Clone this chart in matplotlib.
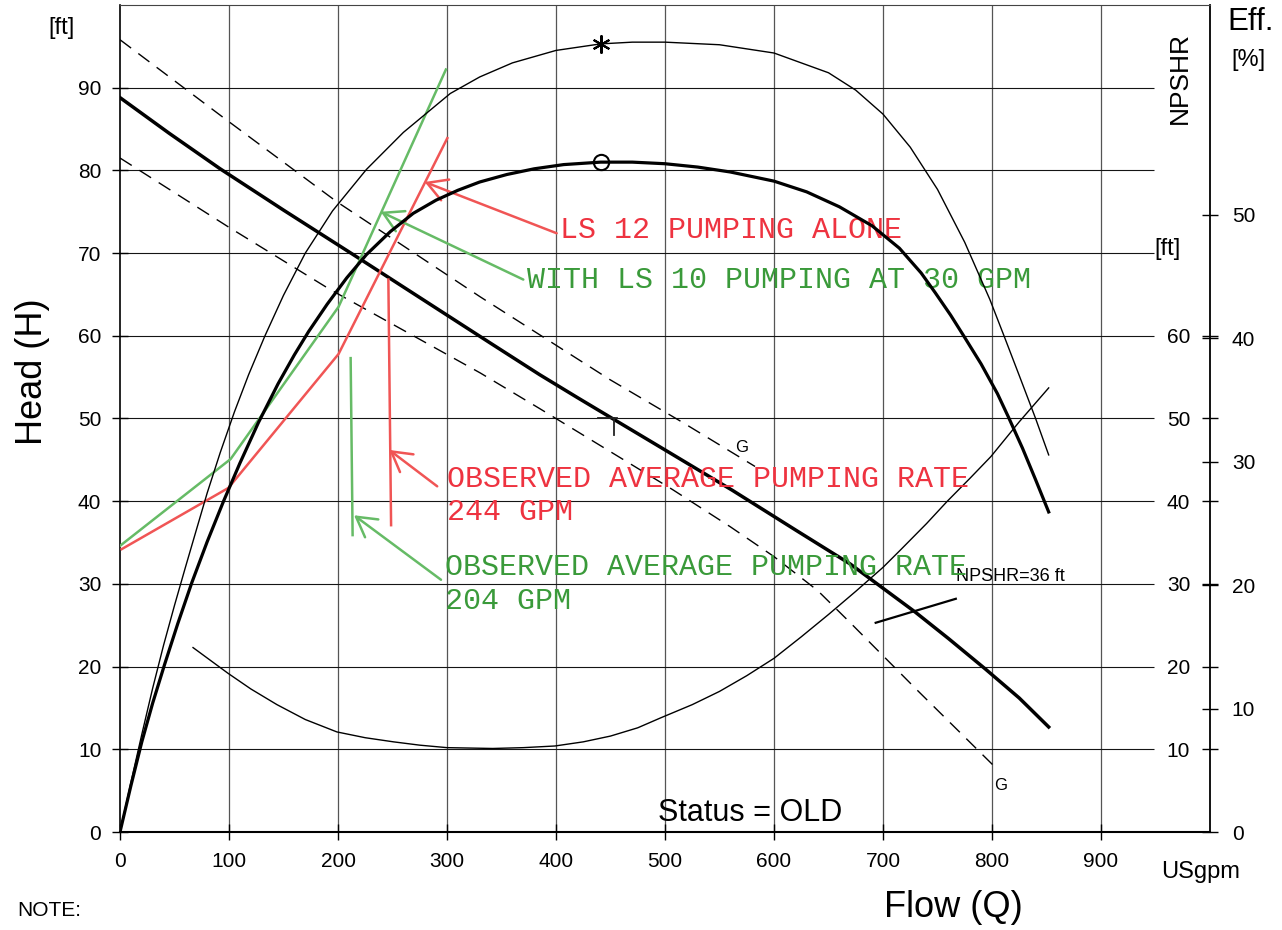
import matplotlib
matplotlib.use("Agg")
import matplotlib.pyplot as plt

plt.rcParams['font.family'] = ['Liberation Sans', 'DejaVu Sans']

# ---------------- data ----------------
# Pump head curve  [USgpm, ft]
head_q = [0, 45, 91.8, 150, 213, 260, 300, 340, 385, 420, 453, 500, 562, 620, 670,
          729.5, 760, 794, 825, 852]
head_h = [88.8, 84.5, 80.2, 75.2, 69.9, 65.9, 62.5, 59.1, 55.3, 52.5, 49.9, 46.2,
          41.3, 36.5, 32.4, 26.6, 23.4, 19.7, 16.2, 12.7]

# Efficiency curve (thick, BEP circle)  [USgpm, %]
eff1_q = [0, 10, 20, 30, 41, 53, 66, 80, 95, 110, 127, 145, 160, 173, 190, 208, 226,
          248, 269, 290, 310, 330, 355, 380, 407, 441, 470, 500, 530, 560, 600, 630,
          660, 690, 715, 735, 748, 762, 774, 790, 805, 815, 828, 840, 848, 852]
eff1_e = [0.0, 3.75, 7.30, 10.45, 13.60, 16.88, 20.23, 23.52, 26.80, 29.88, 33.17,
          36.31, 38.66, 40.54, 42.75, 44.89, 46.77, 48.64, 50.12, 51.19, 51.99, 52.66,
          53.27, 53.73, 54.07, 54.27, 54.27, 54.14, 53.87, 53.47, 52.73, 51.86, 50.65,
          49.11, 47.30, 45.29, 43.68, 41.88, 40.20, 37.92, 35.51, 33.63, 31.09, 28.54,
          26.80, 25.93]

# Efficiency curve (thin, asterisk)  [USgpm, %]
eff2_q = [0, 10, 20, 30, 40, 50, 60, 70, 80, 92, 105, 118, 133, 150, 170, 195, 226,
          260, 303, 330, 360, 400, 441, 470, 500, 550, 600, 650, 675, 700, 725, 750,
          775, 798, 811, 825, 840, 852]
eff2_e = [0.0, 4.02, 7.91, 11.66, 15.14, 18.36, 21.44, 24.46, 27.47, 30.75, 34.04,
          37.05, 40.20, 43.48, 46.90, 50.32, 53.67, 56.68, 59.83, 61.17, 62.31, 63.32,
          63.85, 63.99, 63.99, 63.78, 63.11, 61.51, 60.10, 58.16, 55.48, 52.06, 47.77,
          43.15, 40.20, 36.98, 33.50, 30.55]

bep_q = 441
bep_eff1 = 54.27
bep_eff2 = 63.8

# NPSHR curve  [USgpm, ft]
npsh_q = [67, 99, 120, 144, 170, 199, 225, 251, 275, 300, 342, 370, 399, 425, 450, 475,
          496, 525, 550, 575, 600, 625, 650, 675, 700, 716, 740, 759, 780, 799, 825, 852]
npsh_h = [22.3, 19.2, 17.3, 15.4, 13.6, 12.1, 11.4, 10.9, 10.5, 10.2, 10.1, 10.2, 10.4,
          10.9, 11.6, 12.6, 13.8, 15.4, 17.0, 18.9, 21.0, 23.6, 26.3, 29.1, 32.0, 34.1,
          37.3, 40.0, 42.8, 45.4, 49.6, 53.7]

# Dashed "G" curves  [USgpm, ft]
g_hi_q = [0, 94.7, 199, 330.6, 449.5, 516.5, 582.6]
g_hi_h = [95.8, 86.4, 76.2, 64.7, 54.7, 49.5, 44.2]
g_lo_q = [0, 99, 192.7, 330.6, 385, 507, 560, 600, 640, 670, 731, 805.5]
g_lo_h = [81.5, 73.2, 65.6, 55.5, 51.2, 41.4, 36.9, 33.3, 29.2, 25.3, 17.2, 7.5]

# Rated point marker and NPSHR pointer
rated_q, rated_h = 454, 50.1
npsh_ptr_q = [693.3, 766.8]
npsh_ptr_h = [25.3, 28.2]

# Hand-drawn system curves
red_q = [1.5, 99.4, 200.5, 300.3]
red_h = [34.2, 41.6, 57.8, 83.9]
green_q = [0, 101.5, 200.5, 299]
green_h = [34.6, 45.1, 63.5, 92.2]

# Observed pumping-rate markers
red_obs_q = [246.2, 248.7]
red_obs_h = [66.8, 37.1]
green_obs_q = [211.6, 213.4]
green_obs_h = [57.3, 35.9]

# Arrows: (tail, tip)
red_arrows = [((400.6, 72.4), (279.5, 78.6)), ((291.0, 41.8), (247.0, 46.2))]
green_arrows = [((370.0, 66.8), (239.2, 75.0)), ((294.5, 30.5), (214.7, 38.3))]

x_ticks = [0, 100, 200, 300, 400, 500, 600, 700, 800, 900]
head_ticks = [0, 10, 20, 30, 40, 50, 60, 70, 80, 90]
npsh_ticks = [10, 20, 30, 40, 50, 60]
eff_ticks = [0, 10, 20, 30, 40, 50]

RED_L = '#f05555'
GREEN_L = '#66bb66'
RED_T = '#ee3340'
GREEN_T = '#3a9a3a'
MONO = ['Liberation Mono', 'DejaVu Sans Mono']

# ---------------- figure ----------------
W, H = 1282, 930
fig = plt.figure(figsize=(W / 100, H / 100), dpi=100)
L, B, R, T = 120 / W, 1 - 832 / H, 1210 / W, 1 - 5 / H
ax = fig.add_axes([L, B, R - L, T - B])
ax.set_xlim(0, 1000)
ax.set_ylim(0, 100)

# grid
ax.vlines(x_ticks[1:], 0, 100, colors='#555555', lw=0.9, zorder=1)
ax.hlines(head_ticks[1:], 0, 949, colors='#151515', lw=0.8, zorder=1)

# curves
ax.plot(head_q, head_h, color='k', lw=2.5, zorder=4)
ax.plot(npsh_q, npsh_h, color='k', lw=1.0, zorder=4)
ax.plot(g_hi_q, g_hi_h, color='k', lw=1.0, dashes=(10, 6.5), zorder=4)
ax.plot(g_lo_q, g_lo_h, color='k', lw=1.0, dashes=(10, 6.5), zorder=4)

# rated point mark
ax.plot([rated_q - 15.5, rated_q + 2.3], [rated_h, rated_h], color='#222222', lw=1.3, zorder=5)
ax.plot([rated_q - 0.4, rated_q - 0.4], [rated_h, rated_h - 2.1], color='#222222', lw=1.3, zorder=5)

# NPSHR pointer
ax.plot(npsh_ptr_q, npsh_ptr_h, color='k', lw=1.6, zorder=5)
ax.text(npsh_ptr_q[1], 30.4, 'NPSHR=36 ft', fontsize=13, ha='left', va='baseline', zorder=6)

# G labels
ax.text(564.7, 46.0, 'G', fontsize=12, ha='left', va='baseline')
ax.text(801.7, 5.1, 'G', fontsize=12, ha='left', va='baseline')

# system curves and annotations
ax.plot(red_q, red_h, color=RED_L, lw=1.8, zorder=6)
ax.plot(green_q, green_h, color=GREEN_L, lw=1.8, zorder=6)
ax.plot(red_obs_q, red_obs_h, color=RED_L, lw=1.8, zorder=6)
ax.plot(green_obs_q, green_obs_h, color=GREEN_L, lw=1.8, zorder=6)
for arrows, col in ((red_arrows, RED_L), (green_arrows, GREEN_L)):
    for tail, tip in arrows:
        ax.annotate('', xy=tip, xytext=tail,
                    arrowprops=dict(arrowstyle='->,head_length=1.4,head_width=0.8',
                                    mutation_scale=10, color=col, lw=1.8,
                                    shrinkA=0, shrinkB=0), zorder=6)

FS = 21.6
ax.text(403.7, 71.83, 'LS 12 PUMPING ALONE', color=RED_T, fontsize=FS,
        family=MONO, ha='left', va='baseline', zorder=7)
ax.text(373.4, 65.77, 'WITH LS 10 PUMPING AT 30 GPM', color=GREEN_T, fontsize=FS,
        family=MONO, ha='left', va='baseline', zorder=7)
ax.text(300.0, 41.70, 'OBSERVED AVERAGE PUMPING RATE', color=RED_T, fontsize=FS,
        family=MONO, ha='left', va='baseline', zorder=7)
ax.text(300.0, 37.74, '244 GPM', color=RED_T, fontsize=FS,
        family=MONO, ha='left', va='baseline', zorder=7)
ax.text(298.2, 31.05, 'OBSERVED AVERAGE PUMPING RATE', color=GREEN_T, fontsize=FS,
        family=MONO, ha='left', va='baseline', zorder=7)
ax.text(298.2, 27.00, '204 GPM', color=GREEN_T, fontsize=FS,
        family=MONO, ha='left', va='baseline', zorder=7)

# ticks / spines of main axes
ax.set_xticks(x_ticks)
ax.set_yticks(head_ticks)
ax.tick_params(direction='inout', length=12, width=1.0, labelsize=15, pad=8.5,
               colors='k')
ax.tick_params(axis='y', pad=7.5)
ax.spines['top'].set_linewidth(0.8)
ax.spines['top'].set_color('#444444')
ax.spines['left'].set_linewidth(1.2)
ax.spines['right'].set_linewidth(1.3)
ax.spines['bottom'].set_linewidth(1.5)

# efficiency axis (outer right)
ax_e = ax.twinx()
ax_e.set_ylim(0, 67)
for s in ax_e.spines.values():
    s.set_visible(False)
ax_e.set_yticks(eff_ticks)
ax_e.tick_params(axis='y', direction='inout', length=12, width=1.0, labelsize=15, pad=9.7)
ax_e.plot(eff1_q, eff1_e, color='k', lw=2.3, zorder=4)
ax_e.plot(eff2_q, eff2_e, color='k', lw=1.0, zorder=4)
ax_e.plot([bep_q], [bep_eff1], marker='o', ms=11, mfc='none', mec='k', mew=1.5)
ax_e.plot([bep_q], [bep_eff2], marker=(6, 2, 0), ms=13, mec='k', mew=1.5)

# NPSHR axis (labels inside the right spine)
ax_n = fig.add_axes([R, B, 0.00001, T - B])
ax_n.set_ylim(0, 100)
ax_n.patch.set_visible(False)
for s in ax_n.spines.values():
    s.set_visible(False)
ax_n.set_xticks([])
ax_n.set_yticks(npsh_ticks)
ax_n.tick_params(axis='y', direction='inout', length=12, width=1.0, labelsize=15, pad=8.3,
                 left=True, right=False, labelleft=True, labelright=False)

# free labels
fig.text(62 / W, 1 - 28 / H, '[ft]', fontsize=17, ha='center', va='center')
fig.text(33 / W, 1 - 372 / H, 'Head (H)', fontsize=26, rotation=90, ha='center', va='center')
fig.text(1251 / W, 1 - 22 / H, 'Eff.', fontsize=22.5, ha='center', va='center')
fig.text(1248 / W, 1 - 60 / H, '[%]', fontsize=17, ha='center', va='center')
fig.text(1180 / W, 1 - 78 / H, 'NPSHR', fontsize=19, rotation=90, ha='center', va='center')
fig.text(1168 / W, 1 - 249 / H, '[ft]', fontsize=17, ha='center', va='center')
fig.text(1201 / W, 1 - 872 / H, 'USgpm', fontsize=17, ha='center', va='center')
fig.text(953 / W, 1 - 907 / H, 'Flow (Q)', fontsize=26, ha='center', va='center')
fig.text(49 / W, 1 - 910 / H, 'NOTE:', fontsize=15, ha='center', va='center')
fig.text(750 / W, 1 - 813 / H, 'Status = OLD', fontsize=22, ha='center', va='center')

fig.savefig('out.png', dpi=100)
